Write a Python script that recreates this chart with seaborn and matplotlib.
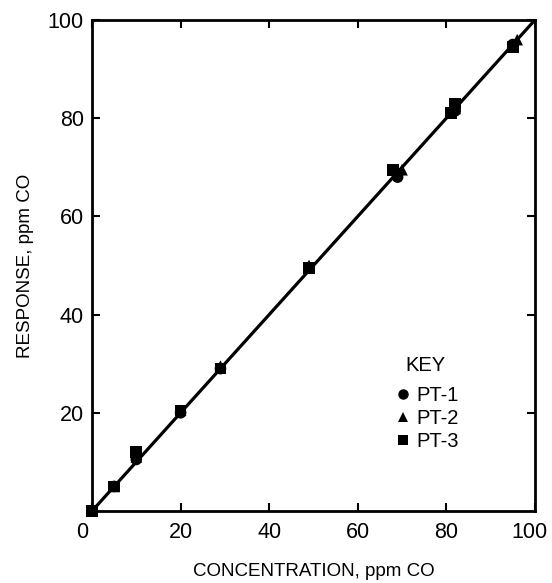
import pandas as pd
import numpy as np
import matplotlib.pyplot as plt
import matplotlib.transforms as mtransforms
import seaborn as sns

# readings taken from the calibration plot
pt1_conc = [0, 5, 10, 20, 29, 49, 69, 82, 95]
pt1_resp = [0, 5, 10.5, 20, 29, 49.5, 68, 81.5, 95]
pt2_conc = [0, 5, 10, 20, 29, 49, 70, 82, 96]
pt2_resp = [0, 5, 11, 20.5, 29.5, 50, 69.5, 82, 96]
pt3_conc = [0, 5, 10, 20, 29, 49, 68, 81, 82, 95]
pt3_resp = [0, 5, 12, 20.5, 29, 49.5, 69.5, 81, 83, 94.5]

fit_x = [0, 100]
fit_y = [0, 100]

x_ticks = [0, 20, 40, 60, 80, 100]
y_ticks = [20, 40, 60, 80, 100]

data = pd.concat([
    pd.DataFrame({'conc': pt1_conc, 'resp': pt1_resp, 'unit': 'PT-1'}),
    pd.DataFrame({'conc': pt2_conc, 'resp': pt2_resp, 'unit': 'PT-2'}),
    pd.DataFrame({'conc': pt3_conc, 'resp': pt3_resp, 'unit': 'PT-3'}),
], ignore_index=True)

sns.set_style("ticks", {'axes.edgecolor': 'black', 'text.color': 'black',
                        'axes.labelcolor': 'black', 'xtick.color': 'black',
                        'ytick.color': 'black'})
plt.rcParams['font.family'] = ['Liberation Sans', 'DejaVu Sans']

fig = plt.figure(figsize=(5.52, 5.83), dpi=100)
ax = fig.add_axes([0.1667, 0.1235, 0.8023, 0.8422])

ax.plot(fit_x, fit_y, color='black', lw=2.3, zorder=2)
sns.scatterplot(data=data, x='conc', y='resp', style='unit',
                markers={'PT-1': 'o', 'PT-2': '^', 'PT-3': 's'},
                color='black', s=70, edgecolor='black', linewidth=0,
                ax=ax, zorder=3, clip_on=False)

ax.set_xlim(0, 100)
ax.set_ylim(0, 100)
ax.set_xticks(x_ticks)
ax.set_yticks(y_ticks)
ax.tick_params(direction='in', length=6, width=1.5, labelsize=15.5,
               top=True, right=True, pad=6)
ax.tick_params(axis='x', pad=8)
for s in ax.spines.values():
    s.set_linewidth(2)

# nudge the end labels like in the original drawing
xlabels = ax.get_xticklabels()
for lab, dx in [(xlabels[0], -10), (xlabels[-1], -5)]:
    off = mtransforms.ScaledTranslation(dx / 100, 0, fig.dpi_scale_trans)
    lab.set_transform(lab.get_transform() + off)

ax.set_xlabel('CONCENTRATION, ppm CO', fontsize=13.5, labelpad=14)
ax.set_ylabel('RESPONSE, ppm CO', fontsize=13.5, labelpad=10)

leg = ax.legend(title='KEY', frameon=False, loc='lower right',
                bbox_to_anchor=(0.87, 0.085), fontsize=14.5, title_fontsize=14.5,
                handletextpad=0.2, labelspacing=0.2, handlelength=1.0,
                markerscale=0.9)
leg._legend_box.sep = 8

plt.savefig('out.png', dpi=100)
